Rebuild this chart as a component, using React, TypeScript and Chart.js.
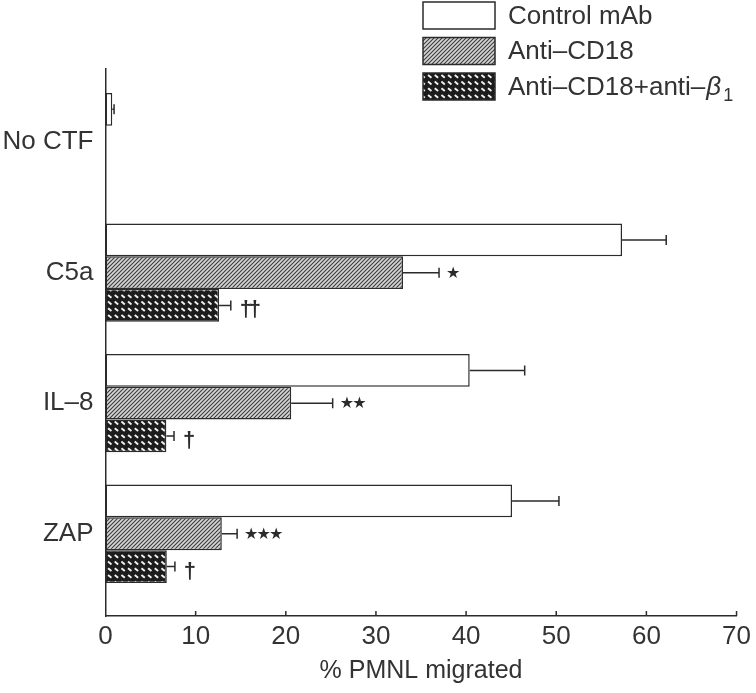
import React, { useEffect, useRef } from 'react';
import { Chart, registerables } from 'chart.js';

Chart.register(...registerables);

const categories = ['No CTF', 'C5a', 'IL–8', 'ZAP'];
const seriesNames = ['Control mAb', 'Anti–CD18', 'Anti–CD18+anti–'];
const controlValues: (number | null)[] = [0.75, 57.3, 40.4, 45.1];
const controlErrors: (number | null)[] = [0.2, 4.9, 6.1, 5.2];
const antiCD18Values: (number | null)[] = [null, 33.0, 20.6, 12.9];
const antiCD18Errors: (number | null)[] = [null, 4.0, 4.6, 1.7];
const comboValues: (number | null)[] = [null, 12.6, 6.75, 6.8];
const comboErrors: (number | null)[] = [null, 1.3, 0.85, 0.9];
const antiCD18Marks = ['', '*', '**', '***'];
const comboMarks = ['', '††', '†', '†'];
const xTickValues = [0, 10, 20, 30, 40, 50, 60, 70];
const xAxisTitle = '% PMNL migrated';

const INK = '#2b2b2b';
const FONT = '"Liberation Sans", Arial, sans-serif';

function makeHatch(): CanvasPattern | string {
  const c = document.createElement('canvas');
  c.width = 4;
  c.height = 4;
  const g = c.getContext('2d');
  if (!g) return '#999';
  g.fillStyle = '#d6d6d6';
  g.fillRect(0, 0, 4, 4);
  g.strokeStyle = '#3a3a3a';
  g.lineWidth = 1.1;
  g.beginPath();
  g.moveTo(-1, 5);
  g.lineTo(5, -1);
  g.moveTo(-1, 1);
  g.lineTo(1, -1);
  g.moveTo(3, 5);
  g.lineTo(5, 3);
  g.stroke();
  const p = g.createPattern(c, 'repeat');
  return p || '#999';
}

function makeCheck(): CanvasPattern | string {
  const c = document.createElement('canvas');
  c.width = 20;
  c.height = 20;
  const g = c.getContext('2d');
  if (!g) return '#333';
  g.fillStyle = '#1c1c1c';
  g.fillRect(0, 0, 20, 20);
  const cell = 20 / 3;
  g.strokeStyle = '#f2f2f2';
  g.lineWidth = 1.9;
  g.lineCap = 'butt';
  for (let r = 0; r < 3; r++) {
    for (let col = 0; col < 3; col++) {
      const x = col * cell;
      const y = r * cell;
      g.beginPath();
      g.moveTo(x + 1.4, y + 1.6);
      g.lineTo(x + 4.8, y + 4.4);
      g.stroke();
    }
  }
  const p = g.createPattern(c, 'repeat');
  return p || '#333';
}

function toPoints(values: (number | null)[]) {
  const pts: { x: number; y: number }[] = [];
  values.forEach((v, i) => {
    if (v !== null) pts.push({ x: v, y: i });
  });
  return pts;
}

export default function App() {
  const canvasRef = useRef<HTMLCanvasElement | null>(null);

  useEffect(() => {
    const canvas = canvasRef.current;
    if (!canvas) return;
    const hatch = makeHatch();
    const check = makeCheck();
    const fills = ['#ffffff', hatch, check];
    const errors = [controlErrors, antiCD18Errors, comboErrors];
    const marks = [null, antiCD18Marks, comboMarks];

    const errorPlugin = {
      id: 'errorBars',
      afterDatasetsDraw(chart: any) {
        const ctx = chart.ctx;
        const xs = chart.scales.x;
        ctx.save();
        ctx.strokeStyle = INK;
        ctx.fillStyle = INK;
        ctx.lineWidth = 1.5;
        chart.data.datasets.forEach((ds: any, d: number) => {
          const meta = chart.getDatasetMeta(d);
          meta.data.forEach((bar: any, j: number) => {
            const pt = ds.data[j];
            const idx = pt.y;
            const err = errors[d][idx];
            if (err === null || err === undefined) return;
            const x0 = xs.getPixelForValue(pt.x);
            const x1 = xs.getPixelForValue(pt.x + err);
            const y = bar.y;
            ctx.beginPath();
            ctx.moveTo(x0, y);
            ctx.lineTo(x1, y);
            ctx.moveTo(x1, y - 5);
            ctx.lineTo(x1, y + 5);
            ctx.stroke();
            const m = marks[d];
            if (m && m[idx]) {
              const s = m[idx];
              if (s.includes('*')) {
                ctx.font = '16px "DejaVu Sans", sans-serif';
                ctx.textBaseline = 'middle';
                ctx.textAlign = 'left';
                for (let k = 0; k < s.length; k++) {
                  ctx.fillText('★', x1 + 7 + k * 12.5, y + 1);
                }
              } else {
                ctx.font = `bold 22px ${FONT}`;
                ctx.textBaseline = 'middle';
                ctx.textAlign = 'center';
                for (let k = 0; k < s.length; k++) {
                  ctx.fillText('†', x1 + 15 + k * 9, y + 5);
                }
              }
            }
          });
        });
        ctx.restore();
      },
    };

    const frame = {
      id: 'frameExtras',
      afterDraw(chart: any) {
        const ctx = chart.ctx;
        const xs = chart.scales.x;
        const bottom = chart.chartArea.bottom;
        ctx.save();
        ctx.strokeStyle = INK;
        ctx.lineWidth = 1.5;
        xTickValues.forEach((v) => {
          if (v === 0) return;
          const x = xs.getPixelForValue(v);
          ctx.beginPath();
          ctx.moveTo(x, bottom);
          ctx.lineTo(x, bottom - 5);
          ctx.stroke();
        });
        // legend
        const bx = 423;
        const bw = 72;
        const bh = 27;
        seriesNames.forEach((name, i) => {
          const by = 2 + i * 35.5;
          ctx.fillStyle = fills[i] as any;
          ctx.fillRect(bx, by, bw, bh);
          ctx.strokeStyle = INK;
          ctx.lineWidth = 1.5;
          ctx.strokeRect(bx, by, bw, bh);
          ctx.fillStyle = '#333';
          ctx.font = `26px ${FONT}`;
          ctx.textBaseline = 'middle';
          ctx.textAlign = 'left';
          const ty = by + bh / 2 + 1;
          ctx.fillText(name, 508, ty);
          if (i === 2) {
            const w = ctx.measureText(name).width;
            ctx.font = `italic 26px ${FONT}`;
            ctx.fillText('β', 508 + w + 1, ty);
            const wb = ctx.measureText('β').width;
            ctx.font = `18px ${FONT}`;
            ctx.fillText('1', 508 + w + wb + 3, ty + 9);
          }
        });
        ctx.restore();
      },
    };

    const chart = new Chart(canvas, {
      type: 'bar',
      data: {
        datasets: [
          { label: seriesNames[0], data: toPoints(controlValues), backgroundColor: fills[0] as any },
          { label: seriesNames[1], data: toPoints(antiCD18Values), backgroundColor: fills[1] as any },
          { label: seriesNames[2], data: toPoints(comboValues), backgroundColor: fills[2] as any },
        ],
      },
      options: {
        indexAxis: 'y',
        responsive: false,
        animation: false,
        devicePixelRatio: 1,
        layout: { padding: { left: 0, right: 15.5, top: 69, bottom: 0 } },
        datasets: {
          bar: {
            categoryPercentage: 0.753,
            barPercentage: 1,
            borderColor: INK,
            borderWidth: 1.5,
            borderSkipped: false,
          },
        },
        plugins: {
          legend: { display: false },
          tooltip: { enabled: false },
        },
        scales: {
          x: {
            type: 'linear',
            min: 0,
            max: 70,
            offset: false,
            afterBuildTicks: (scale: any) => {
              scale.ticks = xTickValues.map((v) => ({ value: v }));
            },
            afterFit: (scale: any) => {
              scale.height = 77;
            },
            grid: { display: false, drawTicks: false, tickLength: 0 },
            border: { display: true, color: INK, width: 1.5 },
            ticks: {
              color: '#333',
              font: { family: FONT, size: 26 },
              padding: 5,
              maxRotation: 0,
              autoSkip: false,
            },
            title: {
              display: true,
              text: xAxisTitle,
              color: '#333',
              font: { family: FONT, size: 25 },
              padding: { top: 0, bottom: 7 },
            },
          },
          y: {
            type: 'linear',
            min: -0.56,
            max: 3.63,
            reverse: true,
            offset: false,
            afterBuildTicks: (scale: any) => {
              scale.ticks = categories.map((_, i) => ({ value: i }));
            },
            afterFit: (scale: any) => {
              scale.width = 105.5;
            },
            grid: { display: false, drawTicks: false, tickLength: 0 },
            border: { display: true, color: INK, width: 1.5 },
            ticks: {
              color: '#333',
              font: { family: FONT, size: 26 },
              padding: 12,
              autoSkip: false,
              callback: (v: any) => categories[Number(v)] ?? '',
            },
          },
        },
      },
      plugins: [errorPlugin, frame],
    } as any);

    return () => chart.destroy();
  }, []);

  return (
    <div style={{ position: 'absolute', left: 0, top: 0, width: 756, height: 693, background: '#fff' }}>
      <canvas ref={canvasRef} width={756} height={693} style={{ display: 'block' }} />
    </div>
  );
}
